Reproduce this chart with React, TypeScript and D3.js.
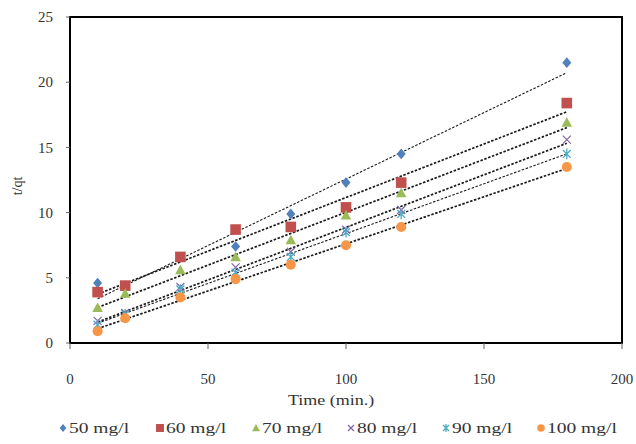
import React from "react";
import * as d3 from "d3";

const times = [10, 20, 40, 60, 80, 100, 120, 180];
const seriesNames = ["50 mg/l", "60 mg/l", "70 mg/l", "80 mg/l", "90 mg/l", "100 mg/l"];
const s50 = [4.6, 4.4, 6.6, 7.4, 9.9, 12.3, 14.5, 21.5];
const s60 = [3.9, 4.4, 6.6, 8.7, 8.9, 10.4, 12.3, 18.4];
const s70 = [2.7, 3.8, 5.6, 6.6, 7.9, 9.8, 11.5, 16.9];
const s80 = [1.7, 2.3, 4.3, 5.8, 7.0, 8.7, 10.2, 15.6];
const s90 = [1.4, 2.2, 4.1, 5.4, 6.6, 8.5, 9.9, 14.5];
const s100 = [0.9, 1.9, 3.5, 4.9, 6.0, 7.5, 8.9, 13.5];
const xTicks = [0, 50, 100, 150, 200];
const yTicks = [0, 5, 10, 15, 20, 25];

const colors = ["#4F81BD", "#C0504D", "#9BBB59", "#8064A2", "#4BACC6", "#F79646"];
const shapes = ["diamond", "square", "triangle", "x", "star", "circle"];

function fit(xs: number[], ys: number[]) {
  const mx = d3.mean(xs)!;
  const my = d3.mean(ys)!;
  let num = 0, den = 0;
  xs.forEach((x, i) => { num += (x - mx) * (ys[i] - my); den += (x - mx) ** 2; });
  const b = num / den;
  return { a: my - b * mx, b };
}

function Marker({ shape, x, y, color, s = 1 }: any) {
  const r = 5.3 * s;
  if (shape === "diamond") {
    return <path d={`M${x},${y - r}L${x + r * 0.85},${y}L${x},${y + r}L${x - r * 0.85},${y}Z`} fill={color} />;
  }
  if (shape === "square") {
    return <rect x={x - r} y={y - r} width={2 * r} height={2 * r} fill={color} />;
  }
  if (shape === "triangle") {
    return <path d={`M${x},${y - r}L${x + r},${y + r * 0.8}L${x - r},${y + r * 0.8}Z`} fill={color} />;
  }
  if (shape === "circle") {
    return <circle cx={x} cy={y} r={r * 0.95} fill={color} />;
  }
  if (shape === "x") {
    const q = r * 0.75;
    return <path d={`M${x - q},${y - q}L${x + q},${y + q}M${x - q},${y + q}L${x + q},${y - q}`} stroke={color} strokeWidth={1.2} />;
  }
  const q = r * 0.75;
  return (
    <path
      d={`M${x - q},${y - q}L${x + q},${y + q}M${x - q},${y + q}L${x + q},${y - q}M${x},${y - r}L${x},${y + r}`}
      stroke={color}
      strokeWidth={1.3}
    />
  );
}

export default function App() {
  const W = 636, H = 444;
  const left = 70, right = 622, top = 17, bottom = 343;
  const x = d3.scaleLinear().domain([0, 200]).range([left, right]);
  const y = d3.scaleLinear().domain([0, 25]).range([bottom, top]);
  const all = [s50, s60, s70, s80, s90, s100];

  const legendX = [63, 160, 256, 351, 446, 541];

  return (
    <svg width={W} height={H} style={{ position: "absolute", left: 0, top: 0, background: "#fff" }}
      fontFamily="'Liberation Serif', 'Times New Roman', serif">
      <rect x={0} y={0} width={W} height={H} fill="#fff" />
      {all.map((vals, i) => {
        const f = fit(times, vals);
        const t0 = times[0], t1 = times[times.length - 1];
        return (
          <line key={"t" + i} x1={x(t0)} y1={y(f.a + f.b * t0)} x2={x(t1)} y2={y(f.a + f.b * t1)}
            stroke="#1a1a1a" strokeWidth={i === 0 || i === 4 ? 1.1 : 1.7} strokeDasharray="2.5,1.6" />
        );
      })}
      {all.map((vals, i) => (
        <g key={"m" + i}>
          {vals.map((v, j) => (
            <Marker key={j} shape={shapes[i]} x={x(times[j])} y={y(v)} color={colors[i]} />
          ))}
        </g>
      ))}
      <rect x={left} y={top} width={right - left} height={bottom - top} fill="none" stroke="#000" strokeWidth={2} />
      {yTicks.map((t) => (
        <g key={"y" + t}>
          <line x1={left - 4} x2={left} y1={y(t)} y2={y(t)} stroke="#666" strokeWidth={1} />
          <text x={left - 17} y={y(t)} dy="0.35em" textAnchor="end" fontSize={15} fill="#333">{t}</text>
        </g>
      ))}
      {xTicks.map((t) => (
        <g key={"x" + t}>
          <line x1={x(t)} x2={x(t)} y1={bottom} y2={bottom + 6} stroke="#666" strokeWidth={1} />
          <text x={x(t)} y={379} dy="0.35em" textAnchor="middle" fontSize={15} fill="#333">{t}</text>
        </g>
      ))}
      <text transform="translate(331,400) scale(1.2,1)" dy="0.35em" textAnchor="middle" fontSize={15} fill="#333">Time (min.)</text>
      <text transform="translate(17,186) rotate(-90)" textAnchor="middle" dy="0.35em" fontSize={14} fill="#333">t/qt</text>
      {seriesNames.map((n, i) => (
        <g key={"l" + i}>
          <Marker shape={shapes[i]} x={legendX[i]} y={428} color={colors[i]} s={0.75} />
          <text transform={`translate(${legendX[i] + 6},428) scale(1.3,1)`} dy="0.35em" fontSize={15} fill="#333">{n}</text>
        </g>
      ))}
    </svg>
  );
}
